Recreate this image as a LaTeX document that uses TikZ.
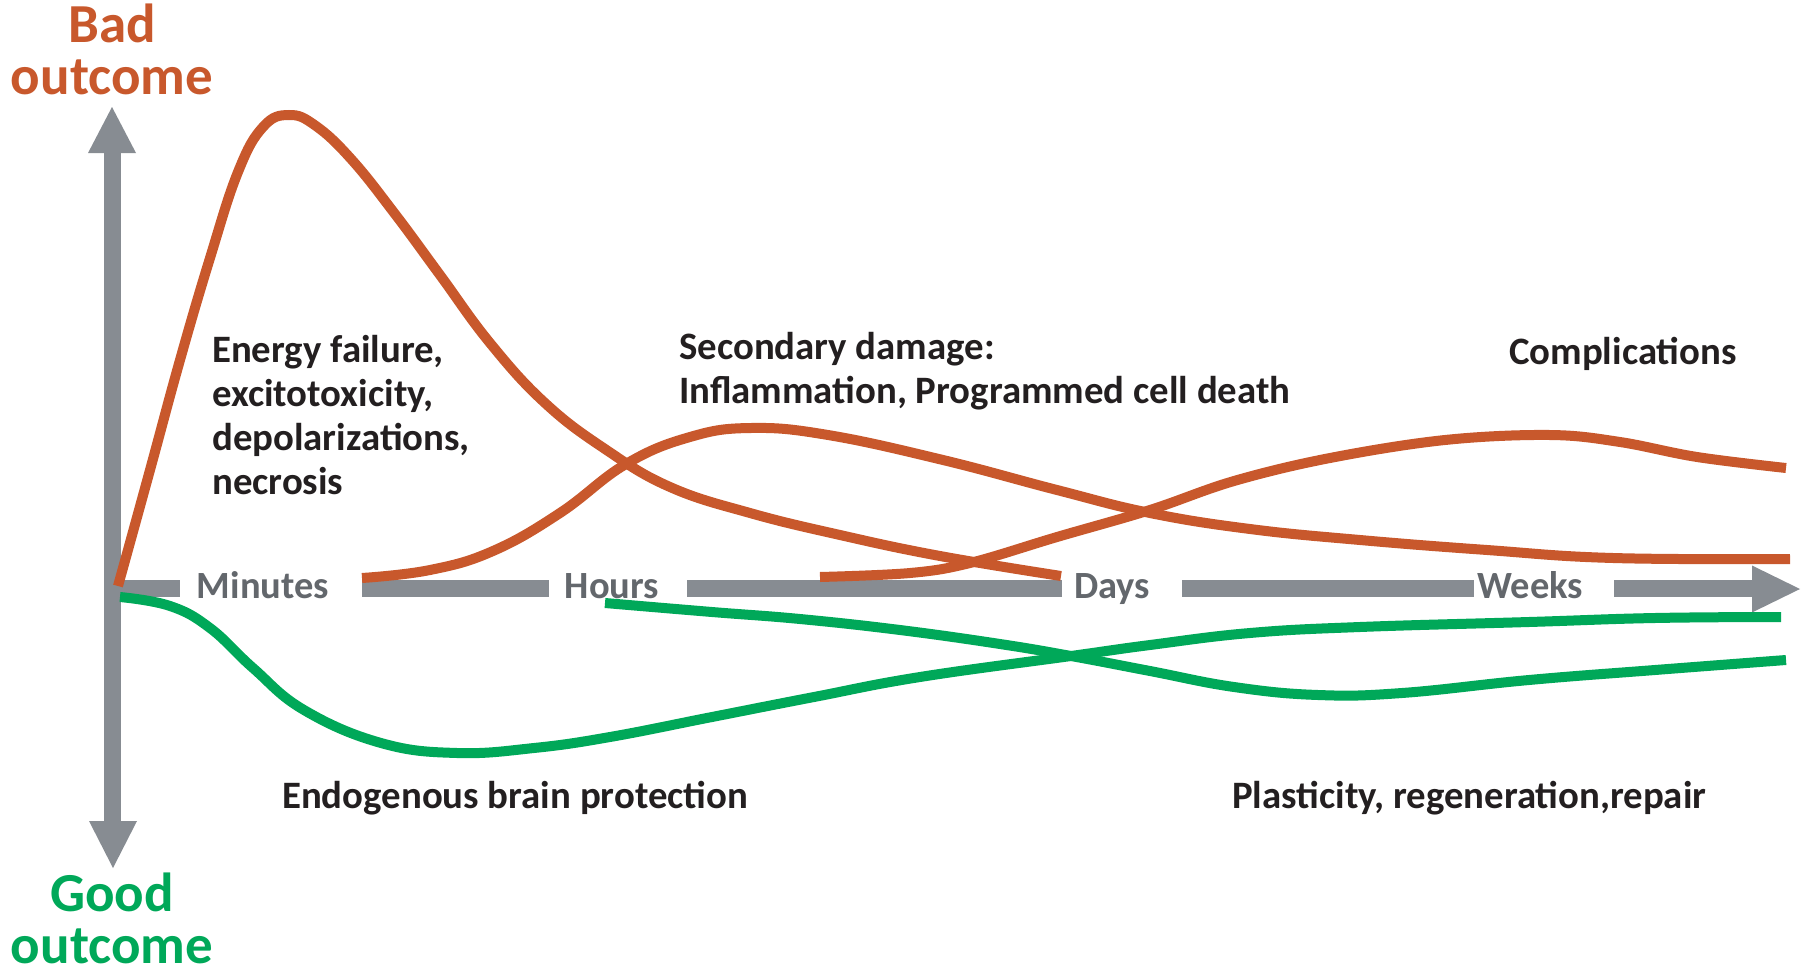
\documentclass[tikz,border=0pt]{standalone}
\usepackage{fontspec}
\setmainfont{Carlito}
\definecolor{badc}{HTML}{C8582C}
\definecolor{goodc}{HTML}{00A859}
\definecolor{axisc}{HTML}{878C92}
\definecolor{labc}{HTML}{63676C}
\definecolor{txtc}{HTML}{231F20}
\tikzset{
  axisbar/.style={draw=axisc, line width=17pt},
  axishead/.style={fill=axisc, draw=none},
  badline/.style={draw=badc, line width=10pt},
  goodline/.style={draw=goodc, line width=10pt},
  timelab/.style={text=labc, font=\fontsize{38.5}{44}\selectfont\bfseries, inner sep=0pt, anchor=base},
  bodytxt/.style={text=txtc, font=\fontsize{38.8}{44}\selectfont\bfseries, inner sep=0pt, align=left, anchor=base west},
  outtxt/.style={font=\fontsize{55}{52}\selectfont\bfseries, inner sep=0pt, align=center, anchor=base},
}
\begin{document}
\begin{tikzpicture}[x=1pt,y=-1pt]
\useasboundingbox (0,0) rectangle (1810,974);

% axis coordinates
\coordinate (O) at (112.5,588.5);
\coordinate (vtop) at (112.5,152);
\coordinate (vbot) at (112.5,822);
\coordinate (h1) at (179.5,588.5);
\coordinate (h2a) at (362,588.5);
\coordinate (h2b) at (549,588.5);
\coordinate (h3a) at (687,588.5);
\coordinate (h3b) at (1062,588.5);
\coordinate (h4a) at (1182,588.5);
\coordinate (h4b) at (1474,588.5);
\coordinate (h5a) at (1614,588.5);
\coordinate (h5b) at (1753,588.5);

% vertical axis
\draw[axisbar] (vtop) -- (vbot);
\fill[axishead] (112,107) -- (136,153) -- (88,153) -- cycle;
\fill[axishead] (113,868) -- (137,821) -- (89,821) -- cycle;

% horizontal axis
\draw[axisbar] (104,588.5) -- (h1);
\draw[axisbar] (h2a) -- (h2b);
\draw[axisbar] (h3a) -- (h3b);
\draw[axisbar] (h4a) -- (h4b);
\draw[axisbar] (h5a) -- (h5b);
\fill[axishead] (1800,589) -- (1752,565.5) -- (1752,612.5) -- cycle;

% time labels
\node[timelab] (minutes) at (263,598) {Minutes};
\node[timelab] (hours) at (612,598) {Hours};
\node[timelab] (days) at (1112,598) {Days};
\node[timelab] (weeks) at (1530,598) {Weeks};

% orange curves
\draw[badline] plot[smooth, tension=0.7] coordinates {
 (118,586) (150,470) (180,360) (210,258) (238,172) (263,127) (289,115)
 (316,126) (352,160) (395,214) (440,275) (490,343) (545,403) (605,449)
 (670,487) (750,513) (840,535) (940,556) (1061,576)};
\draw[badline] plot[smooth, tension=0.7] coordinates {
 (362,578) (430,570) (493,551) (560,513) (626,464) (690,437) (751,428)
 (828,435) (943,460) (1057,490) (1150,513) (1250,529) (1360,540)
 (1487,550) (1613,558) (1790,559)};
\draw[badline] plot[smooth, tension=0.6] coordinates {
 (820,577) (910,573) (970,563) (1057,537) (1150,510) (1234,481)
 (1330,458) (1445,440) (1550,435) (1620,442) (1697,457) (1786,468)};

% green curves
\draw[goodline] plot[smooth, tension=0.7] coordinates {
 (120,597) (170,606) (210,628) (253,668) (304,710) (381,743) (457,753)
 (534,748) (610,737) (712,717) (814,697) (920,677) (1071,656)
 (1150,645) (1250,633) (1360,627) (1529,622) (1655,618) (1781,617)};
\draw[goodline] plot[smooth, tension=0.7] coordinates {
 (605,603) (712,612) (800,619) (900,630) (1000,644) (1071,656) (1150,671)
 (1234,687) (1318,695) (1402,693) (1529,680) (1655,670) (1786,660)};

% outcome labels
\node[outtxt, text=badc] (bad) at (112,95) {Bad\\outcome};
\node[outtxt, text=goodc] (good) at (112,963) {Good\\outcome};

% descriptive texts
\node[bodytxt] (energy) at (212,494) {Energy failure,\\excitotoxicity,\\depolarizations,\\necrosis};
\node[bodytxt] (secondary) at (679,403) {Secondary damage:\\Inflammation, Programmed cell death};
\node[bodytxt] (compl) at (1509,364) {Complications};
\node[bodytxt] (endo) at (282,808) {Endogenous brain protection};
\node[bodytxt] (plast) at (1232,808) {Plasticity, regeneration,repair};
\end{tikzpicture}
\end{document}
